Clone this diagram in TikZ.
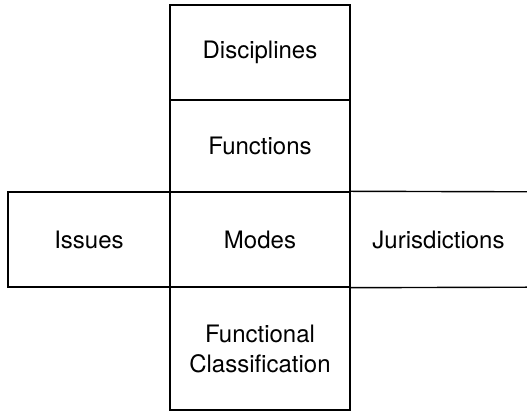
\documentclass[tikz,border=0pt]{standalone}
\usepackage{fontspec}
\setmainfont{TeX Gyre Heros}
\begin{document}
\begin{tikzpicture}[x=1pt,y=1pt,
  cell/.style={draw=black, line width=1.4pt, inner sep=0pt, align=center,
    font=\fontsize{24}{30}\selectfont},
  opencell/.style={inner sep=0pt, align=center, font=\fontsize{24}{30}\selectfont},
  edge/.style={line width=1.4pt}]
\useasboundingbox (0,0) rectangle (527,411);
\node[cell, minimum width=180pt, minimum height=95pt] (D) at (260,358.5) {Disciplines};
\node[cell, minimum width=180pt, minimum height=92pt] (F) at (260,265) {Functions};
\node[cell, minimum width=180pt, minimum height=95pt] (M) at (260,171.5) {Modes};
\node[cell, minimum width=180pt, minimum height=123pt] (C) at (260,62.5) {Functional\\Classification};
\node[cell, minimum width=162pt, minimum height=95pt] (I) at (89,171.5) {Issues};
\node[opencell, minimum width=177pt, minimum height=95pt] (J) at (438.5,171.5) {Jurisdictions};
\draw[edge] (M.north east) -- (J.north east);
\draw[edge] (M.south east) -- (J.south east);
\end{tikzpicture}
\end{document}
